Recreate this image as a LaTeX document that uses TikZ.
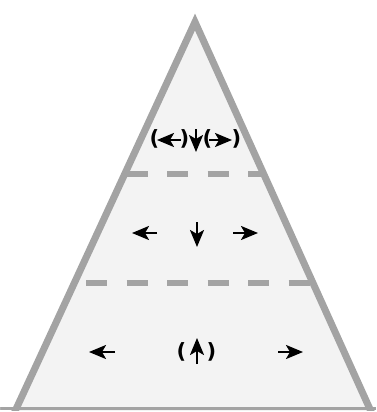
\documentclass[tikz,border=0pt]{standalone}
\usepackage{fontspec}
\setmainfont{DejaVu Sans}
\usepackage{tikz}
\usetikzlibrary{arrows.meta,calc}

\definecolor{pyrfill}{RGB}{243,243,243}
\definecolor{pyredge}{RGB}{163,163,163}

\begin{document}
\begin{tikzpicture}[x=1pt, y=-1pt,
    side/.style={draw=pyredge, line width=7pt, line join=miter},
    base/.style={draw=pyredge, line width=3pt},
    tier/.style={draw=pyredge, line width=6pt, dash pattern=on 21pt off 19.5pt, dash phase=35.5pt},
    arr/.style={line width=2.4pt, draw=black, arrows={-Stealth[length=17pt, width=14pt, inset=4pt]}},
    paren/.style={font=\fontsize{21}{21}\selectfont\bfseries, inner sep=0pt}]

    \useasboundingbox (0,0) rectangle (376,412);

    % Pyramid corners (stroke centre)
    \coordinate (apex) at (195,22);
    \coordinate (bl) at (17,407);
    \coordinate (br) at (369,407);

    \begin{scope}
      \clip (0,0) rectangle (376,410);
      \fill[pyrfill] (apex) -- ($(apex)!1.05!(bl)$) -- ($(apex)!1.05!(br)$) -- cycle;
      \begin{scope}
        \clip (apex) -- (bl) -- (br) -- cycle;
        % Tier boundaries
        \draw[tier] (0,174) -- (376,174);
        \draw[tier] (0,283) -- (376,283);
      \end{scope}
      \draw[base] (0,408.5) -- (376,408.5);
      \fill[white] (0,0) -- ($(apex)!1.1!(bl)$) -- (0,420) -- cycle;
      \fill[white] (376,0) -- ($(apex)!1.1!(br)$) -- (376,420) -- cycle;
      \draw[side] ($(apex)!1.1!(bl)$) -- (apex) -- ($(apex)!1.1!(br)$);
    \end{scope}

    % Top tier
    \node[paren] (lp1) at (154.5,139) {(};
    \node[paren] (rp1) at (184.5,139) {)};
    \node[paren] (lp2) at (207.5,139) {(};
    \node[paren] (rp2) at (236.5,139) {)};
    \draw[arr] (181,140) -- (157,140);
    \draw[arr] (196,129) -- (196,152);
    \draw[arr] (209,140) -- (232,140);

    % Middle tier
    \draw[arr] (157,233) -- (132,233);
    \draw[arr] (197,222) -- (197,247);
    \draw[arr] (233,233) -- (258,233);

    % Bottom tier
    \node[paren] (lp3) at (181.5,352) {(};
    \node[paren] (rp3) at (211.5,352) {)};
    \draw[arr] (115,352) -- (89,352);
    \draw[arr] (197,364) -- (197,338);
    \draw[arr] (278,352) -- (303,352);

\end{tikzpicture}
\end{document}
